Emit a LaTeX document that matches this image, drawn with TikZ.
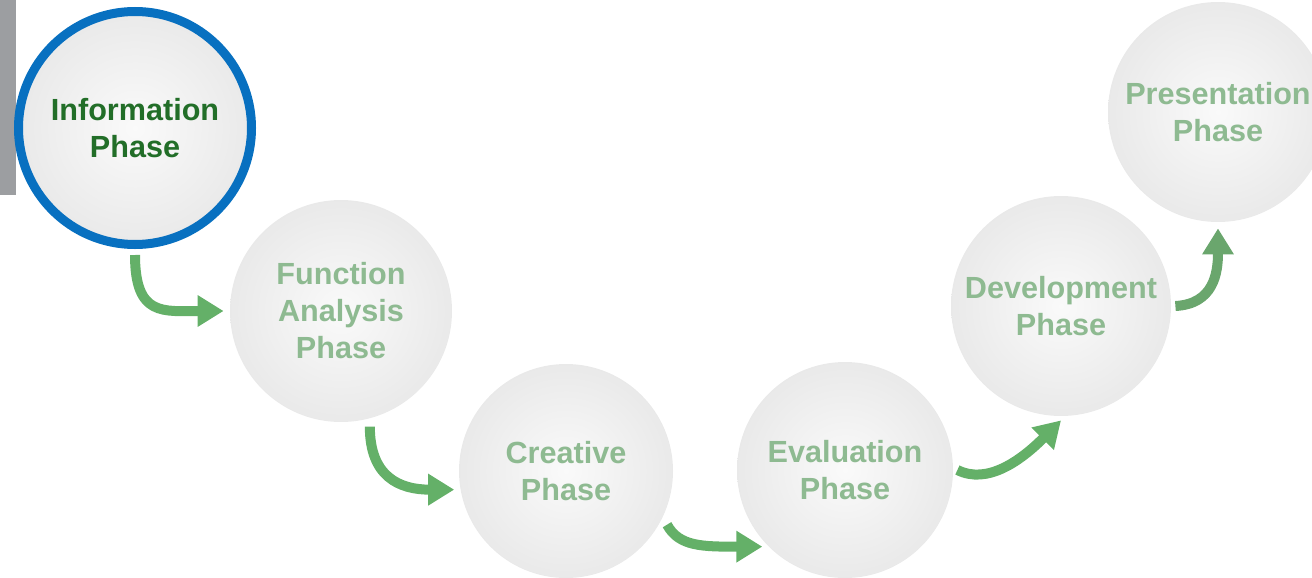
\documentclass[tikz,border=0pt]{standalone}
\usepackage{fontspec}
\setmainfont{Liberation Sans}
\usetikzlibrary{arrows.meta}

\definecolor{ringblue}{RGB}{8,112,192}
\definecolor{darkgreen}{RGB}{34,110,40}
\definecolor{palegreen}{RGB}{142,186,145}
\definecolor{arrowgreen}{RGB}{100,176,104}
\definecolor{bargray}{RGB}{156,158,161}

\begin{document}
\begin{tikzpicture}[x=0.5pt,y=-0.5pt,
    phase/.style={circle, inner sep=0pt, align=center,
        font=\fontsize{15.3}{18.5}\selectfont\bfseries, text=palegreen,
        shading=radial, inner color=gray!4, outer color=gray!17},
    flow/.style={line width=5pt, arrowgreen, -{Triangle[width=15pt,length=13pt]}}]
    \useasboundingbox (0,0) rectangle (1312,578);
    \clip (0,0) rectangle (1312,578);

    % 左侧灰条
    \fill[bargray] (0,0) rectangle (16,195);

    % 六个阶段
    \node[phase, minimum size=116.5pt, draw=ringblue, line width=4.5pt, text=darkgreen]
        (info) at (135,128) {Information\\Phase};
    \node[phase, minimum size=111pt] (func) at (341,311) {Function\\Analysis\\Phase};
    \node[phase, minimum size=107pt] (creative) at (566,471) {Creative\\Phase};
    \node[phase, minimum size=108pt] (eval) at (845,470) {Evaluation\\Phase};
    \node[phase, minimum size=110pt] (devel) at (1061,306) {Development\\Phase};
    \node[phase, minimum size=110pt] (present) at (1218,112) {Presentation\\Phase};

    % 阶段之间的箭头
    \draw[flow] ([yshift=-3pt]info.south) .. controls +(0,62) and +(-60,0) .. ([xshift=-3pt]func.west);
    \draw[flow] ([yshift=-4pt]func.-75) .. controls +(0,50) and +(-55,0) .. ([xshift=-3pt]creative.190);
    \draw[flow] ([xshift=4pt]creative.-30) .. controls +(12,22) and +(-60,0) .. ([xshift=-3pt]eval.225);
    \draw[flow] ([xshift=2pt]eval.east) .. controls +(30,15) and +(-40,40) .. ([yshift=-2pt]devel.south);
    \draw[flow, arrowgreen!80!gray] ([xshift=2pt]devel.east) .. controls +(38,-2) and +(0,45) .. ([yshift=-3pt]present.south);
\end{tikzpicture}
\end{document}
